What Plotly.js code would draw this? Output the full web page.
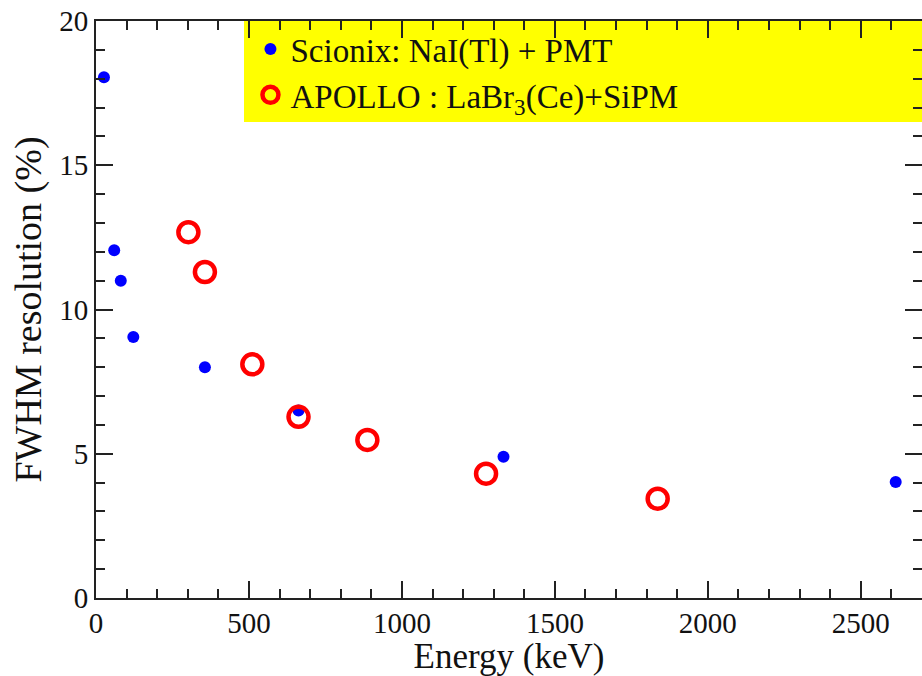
<!DOCTYPE html>
<html>
<head>
<meta charset="utf-8">
<script src="https://cdn.plot.ly/plotly-3.0.1.min.js"></script>
<style>html,body{margin:0;padding:0;background:#fff;}#chart{width:922px;height:676px;}</style>
</head>
<body>
<div id="chart"></div>
<script>
// Scionix: NaI(Tl) + PMT
const nai_energy = [26, 59.5, 81, 122, 356, 662, 1332, 2614];
const nai_fwhm   = [18.05, 12.05, 11.0, 9.05, 8.0, 6.5, 4.9, 4.02];
// APOLLO : LaBr3(Ce)+SiPM
const labr_energy = [302, 356, 511, 662, 887, 1275, 1836];
const labr_fwhm   = [12.68, 11.3, 8.1, 6.28, 5.48, 4.31, 3.44];

const seriesNames = ["Scionix: NaI(Tl) + PMT", "APOLLO : LaBr<sub>3</sub>(Ce)+SiPM"];

const font = "Liberation Serif, Times New Roman, serif";

const traces = [
  {x: nai_energy, y: nai_fwhm, name: seriesNames[0], mode: "markers", type: "scatter",
   legendgroup: "a",
   marker: {symbol: "circle", color: "#0000ff", size: 12}},
  {x: labr_energy, y: labr_fwhm, name: seriesNames[1], mode: "markers", type: "scatter",
   legendgroup: "b",
   marker: {symbol: "circle-open", color: "#ff0000", size: 20, line: {width: 4.5, color: "#ff0000"}}}
];

const axisCommon = {
  showgrid: false, zeroline: false, showline: true, linecolor: "#222", linewidth: 2,
  mirror: "allticks", ticks: "inside", ticklen: 17, tickwidth: 2, tickcolor: "#222",
  tickfont: {family: font, size: 29, color: "#111"}
};

const layout = {
  width: 922, height: 676,
  margin: {l: 96, r: 0, t: 21, b: 78},
  paper_bgcolor: "#fff", plot_bgcolor: "#fff",
  font: {family: font},
  showlegend: true,
  legend: {
    x: 0.187, y: 1.0, xanchor: "left", yanchor: "top",
    bgcolor: "rgba(0,0,0,0)", borderwidth: 0,
    font: {family: font, size: 33, color: "#111"},
    traceorder: "grouped", tracegroupgap: 0,
    itemsizing: "trace"
  },
  shapes: [
    {type: "rect", xref: "paper", yref: "paper", layer: "below",
     x0: (244-96)/826, x1: 1.0, y0: (598-122)/577, y1: 1.0,
     fillcolor: "#ffff00", line: {width: 0}}
  ],
  xaxis: Object.assign({}, axisCommon, {
    range: [0, 2700], dtick: 500, tick0: 0,
    ticklabelstandoff: -2,
    minor: {dtick: 100, ticks: "inside", ticklen: 9, tickwidth: 2, tickcolor: "#222"},
    title: {text: "Energy (keV)", font: {family: font, size: 35, color: "#111"}, standoff: 2}
  }),
  yaxis: Object.assign({}, axisCommon, {
    range: [0, 20], dtick: 5, tick0: 0,
    minor: {dtick: 1, ticks: "inside", ticklen: 9, tickwidth: 2, tickcolor: "#222"},
    title: {text: "FWHM resolution (%)", font: {family: font, size: 38, color: "#111"}, standoff: 6}
  })
};

Plotly.newPlot("chart", traces, layout, {displayModeBar: false, staticPlot: true});
</script>
</body>
</html>
